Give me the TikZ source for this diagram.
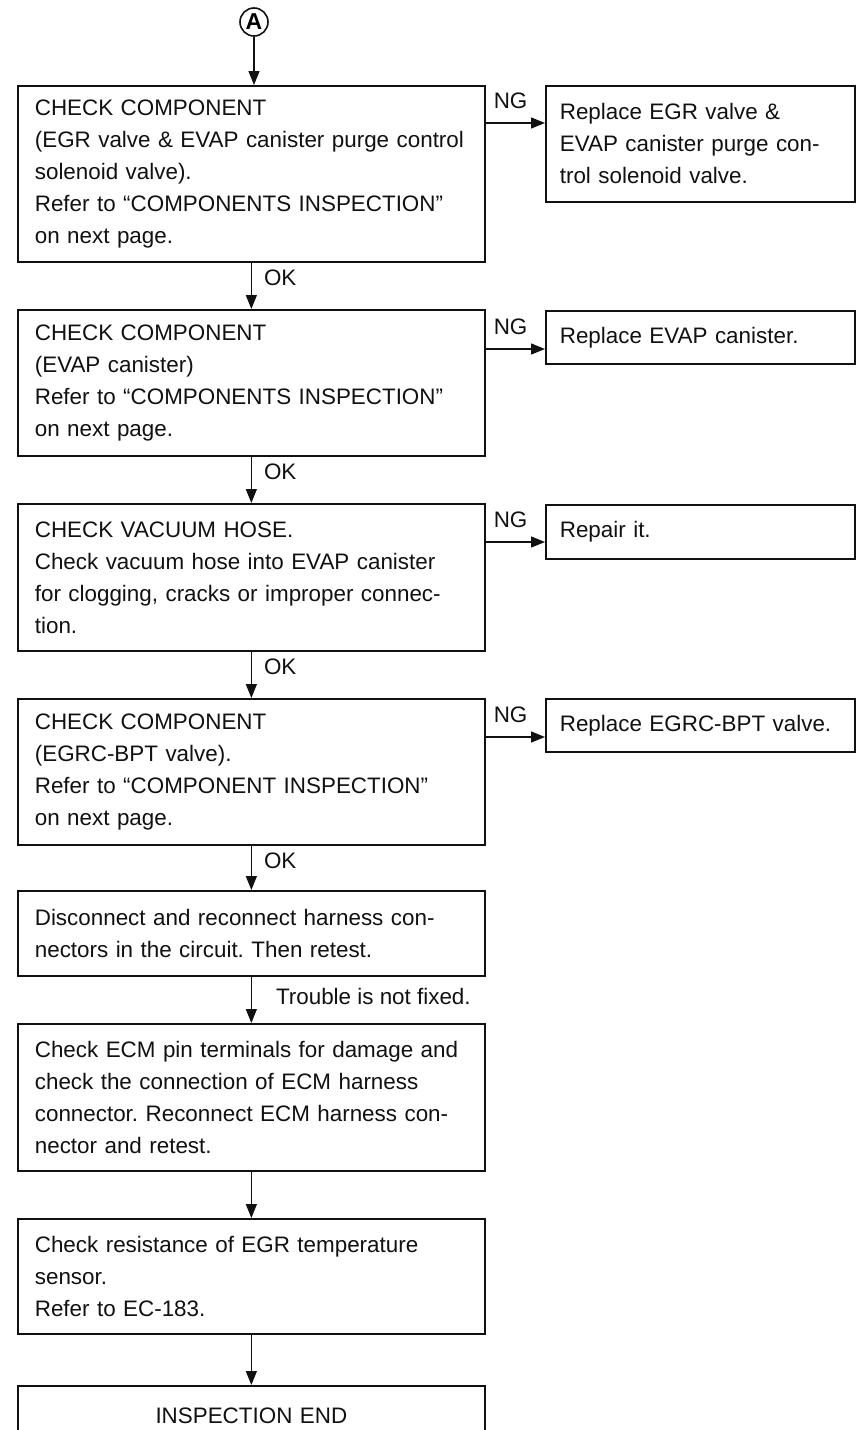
\documentclass[tikz,border=0pt]{standalone}
\usepackage{fontspec}
\setmainfont{Liberation Sans}
\usetikzlibrary{arrows.meta,positioning}
\definecolor{inkcolor}{HTML}{111111}
\frenchspacing
\tikzset{
  base/.style={draw=inkcolor, line width=0.85pt, text=inkcolor, anchor=north west, inner ysep=0pt, align=left, font=\fontsize{11.2}{16}\selectfont},
  checkbox/.style={base, minimum width=233.5pt, text width=216.5pt, inner xsep=8.5pt},
  fixbox/.style={base, minimum width=154.5pt, text width=140.5pt, inner xsep=7pt},
  endbox/.style={base, minimum width=233.5pt, text width=216.5pt, inner xsep=8.5pt, align=center},
  marker/.style={circle, draw=inkcolor, line width=0.8pt, minimum size=14pt, inner sep=0pt, font=\bfseries\fontsize{11.5}{12}\selectfont},
  flow/.style={draw=inkcolor, line width=0.7pt, -{Triangle[length=7pt,width=5.5pt]}},
  tag/.style={font=\fontsize{11.2}{14}\selectfont, text=inkcolor, inner sep=2pt},
}
\begin{document}
\begin{tikzpicture}[x=0.5pt,y=-0.5pt]
  \fill[white] (0,0) rectangle (856,1430);
  \useasboundingbox (0,0) rectangle (856,1430);

  \node[marker] (pointA) at (254,22) {A};

  % main column
  \node[checkbox, minimum height=88pt] (check1) at (17,85)
    {CHECK COMPONENT\\ (EGR valve \& EVAP canister purge control\\ solenoid valve).\\ Refer to “COMPONENTS INSPECTION”\\ on next page.};
  \node[checkbox, minimum height=73pt] (check2) at (17,309)
    {CHECK COMPONENT\\ (EVAP canister)\\ Refer to “COMPONENTS INSPECTION”\\ on next page.};
  \node[checkbox, minimum height=73.5pt] (check3) at (17,503)
    {CHECK VACUUM HOSE.\\ Check vacuum hose into EVAP canister\\ for clogging, cracks or improper connec-\\ tion.};
  \node[checkbox, minimum height=73pt] (check4) at (17,698)
    {CHECK COMPONENT\\ (EGRC-BPT valve).\\ Refer to “COMPONENT INSPECTION”\\ on next page.};
  \node[checkbox, minimum height=42.5pt] (check5) at (17,890)
    {Disconnect and reconnect harness con-\\ nectors in the circuit. Then retest.};
  \node[checkbox, minimum height=73.5pt] (check6) at (17,1023)
    {Check ECM pin terminals for damage and\\ check the connection of ECM harness\\ connector. Reconnect ECM harness con-\\ nector and retest.};
  \node[checkbox, minimum height=57.5pt] (check7) at (17,1218)
    {Check resistance of EGR temperature\\ sensor.\\ Refer to EC-183.};
  \node[endbox, minimum height=30pt] (finish) at (17,1385) {INSPECTION END};

  % repair column
  \node[fixbox, minimum height=58pt] (fix1) at (545,85)
    {Replace EGR valve \&\\ EVAP canister purge con-\\ trol solenoid valve.};
  \node[fixbox, minimum height=26.5pt] (fix2) at (545,310) {Replace EVAP canister.};
  \node[fixbox, minimum height=27pt] (fix3) at (545,504) {Repair it.};
  \node[fixbox, minimum height=26.5pt] (fix4) at (545,698) {Replace EGRC-BPT valve.};

  \coordinate (ng1) at ([yshift=-19pt]fix1.north west);
  \coordinate (ng2) at ([yshift=-19.5pt]fix2.north west);
  \coordinate (ng3) at ([yshift=-19pt]fix3.north west);
  \coordinate (ng4) at ([yshift=-19.5pt]fix4.north west);

  \draw[flow] (pointA) -- (pointA |- check1.north);
  \draw[flow] (check1) -- node[tag, right=4pt, pos=0.33] {OK} (check2);
  \draw[flow] (check2) -- node[tag, right=4pt, pos=0.33] {OK} (check3);
  \draw[flow] (check3) -- node[tag, right=4pt, pos=0.33] {OK} (check4);
  \draw[flow] (check4) -- node[tag, right=4pt, pos=0.33] {OK} (check5);
  \draw[flow] (check5) -- node[tag, right=10pt, pos=0.42] {Trouble is not fixed.} (check6);
  \draw[flow] (check6) -- (check7);
  \draw[flow] (check7) -- (finish);

  \draw[flow] (check1.east |- ng1) -- node[tag, above=5pt, pos=0.42] {NG} (ng1);
  \draw[flow] (check2.east |- ng2) -- node[tag, above=5pt, pos=0.42] {NG} (ng2);
  \draw[flow] (check3.east |- ng3) -- node[tag, above=5pt, pos=0.42] {NG} (ng3);
  \draw[flow] (check4.east |- ng4) -- node[tag, above=5pt, pos=0.42] {NG} (ng4);
\end{tikzpicture}
\end{document}
